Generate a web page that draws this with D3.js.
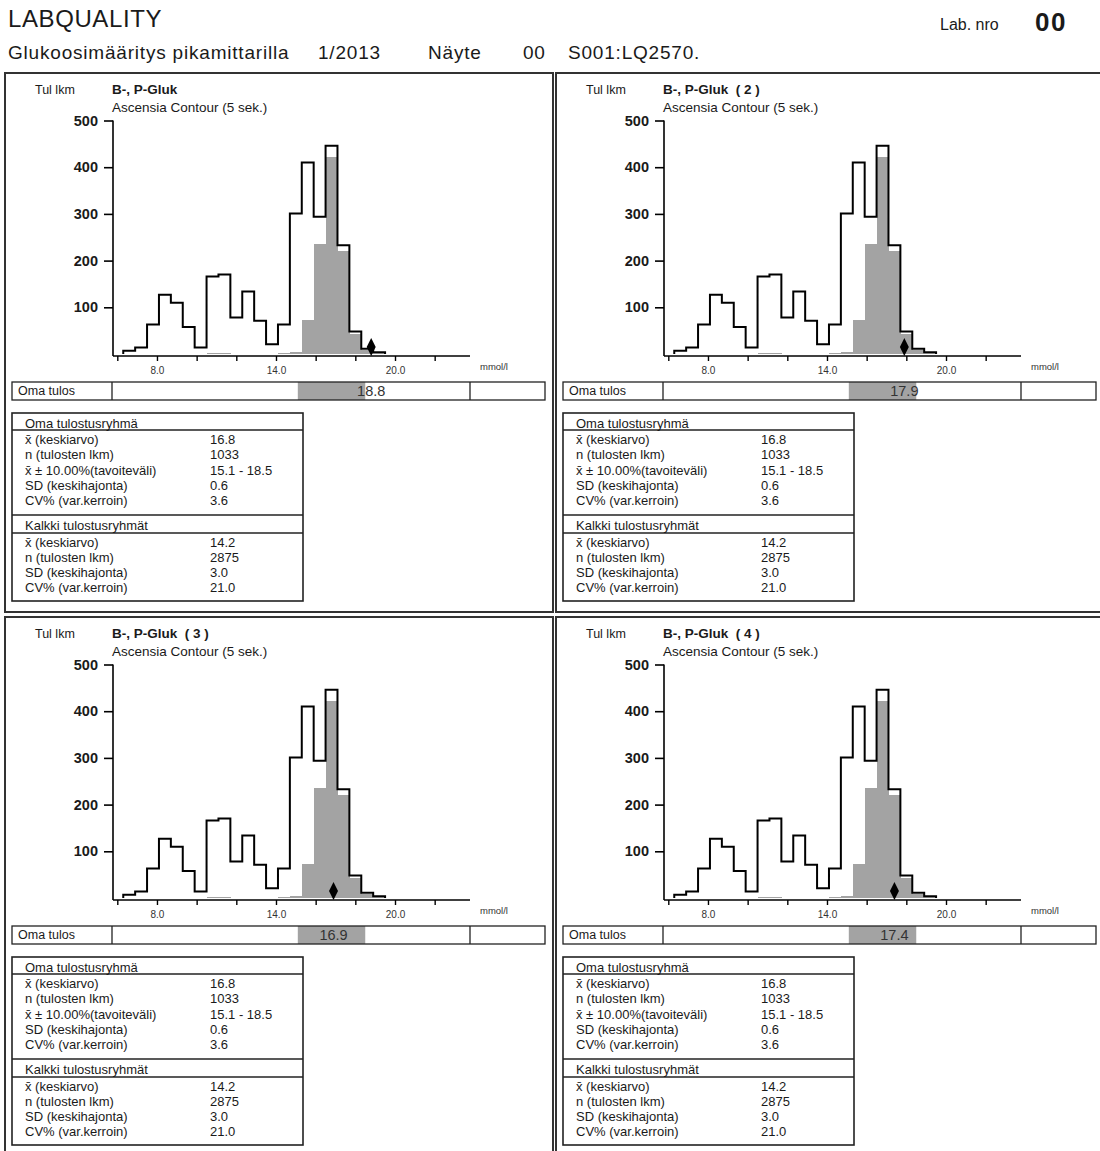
<!DOCTYPE html>
<html><head><meta charset="utf-8">
<script src="https://cdn.jsdelivr.net/npm/d3@7"></script>
<style>
body{margin:0;background:#fff;}
svg{display:block;font-family:"Liberation Sans",Arial,sans-serif;}
</style></head>
<body>
<svg id="chart" width="1100" height="1151"></svg>
<script>
// ---------- data ----------
const binEdges = [6.3, 6.9, 7.5, 8.1, 8.7, 9.3, 9.9, 10.5, 11.1, 11.7, 12.3, 12.9, 13.5, 14.1, 14.7, 15.3, 15.9, 16.5, 17.1, 17.7, 18.3, 18.9, 19.5];
const allCounts   = [7, 14, 63, 127, 110, 58, 14, 166, 170, 78, 134, 71, 21, 63, 301, 410, 294, 446, 233, 48, 11, 4];
const groupCounts = [0, 0, 0, 0, 0, 0, 0, 3, 2, 0, 0, 0, 0, 2, 4, 72, 236, 421, 221, 43, 8, 3];
const panelTitles = ["B-, P-Gluk", "B-, P-Gluk\u00a0\u00a0(\u00a02\u00a0)", "B-, P-Gluk\u00a0\u00a0(\u00a03\u00a0)", "B-, P-Gluk\u00a0\u00a0(\u00a04\u00a0)"];
const ownResults = [18.8, 17.9, 16.9, 17.4];
const targetRange = [15.1, 18.5];
const yTicks = [100, 200, 300, 400, 500];
const xTicks = [6, 8, 10, 12, 14, 16, 18, 20, 22];
const xTickLabels = [8, 14, 20];
const groupRowLabels = ["x\u0304 (keskiarvo)", "n (tulosten lkm)", "x\u0304 \u00b1 10.00%(tavoiteväli)", "SD (keskihajonta)", "CV% (var.kerroin)"];
const groupRowValues = ["16.8", "1033", "15.1 - 18.5", "0.6", "3.6"];
const allRowLabels = ["x\u0304 (keskiarvo)", "n (tulosten lkm)", "SD (keskihajonta)", "CV% (var.kerroin)"];
const allRowValues = ["14.2", "2875", "3.0", "21.0"];

// ---------- layout ----------
const svg = d3.select("#chart");
const ink = "#1a1a1a";

// header
svg.append("text").attr("x", 8).attr("y", 27).attr("font-size", 24).attr("letter-spacing", 0.6).attr("fill", ink).text("LABQUALITY");
svg.append("text").attr("x", 940).attr("y", 30).attr("font-size", 16).attr("fill", ink).text("Lab. nro");
svg.append("text").attr("x", 1035).attr("y", 31).attr("font-size", 26).attr("letter-spacing", 1.5).attr("font-weight", "bold").attr("fill", ink).text("00");
const hdr = [["Glukoosimääritys pikamittarilla", 8], ["1/2013", 318], ["Näyte", 428], ["00", 523], ["S001:LQ2570.", 568]];
hdr.forEach(([t, x]) => svg.append("text").attr("x", x).attr("y", 59).attr("font-size", 19).attr("letter-spacing", 0.8).attr("fill", ink).text(t));

const PW = 548, PH = 539;
const x = d3.scaleLinear().domain([6, 20]).range([112.3, 390]);
const y = d3.scaleLinear().domain([0, 500]).range([281, 47.5]);

panelTitles.forEach((title, i) => {
  const col = i % 2, row = Math.floor(i / 2);
  const g = svg.append("g").attr("transform", `translate(${5 + col * 551},${73 + row * 544})`);
  g.append("rect").attr("x", 0).attr("y", 0).attr("width", PW).attr("height", PH)
    .attr("fill", "none").attr("stroke", "#333").attr("stroke-width", 2);

  g.append("text").attr("x", 30).attr("y", 21).attr("font-size", 12.5).attr("fill", ink).text("Tul lkm");
  g.append("text").attr("x", 107).attr("y", 21).attr("font-size", 13.5).attr("font-weight", "bold").attr("fill", ink).text(title);
  g.append("text").attr("x", 107).attr("y", 39).attr("font-size", 13.5).attr("fill", ink).text("Ascensia Contour (5 sek.)");

  // gray group histogram
  g.selectAll("rect.grp").data(groupCounts.map((c, k) => ({c, x0: binEdges[k], x1: binEdges[k + 1]})).filter(d => d.c > 0))
    .enter().append("rect")
    .attr("x", d => x(d.x0)).attr("width", d => x(d.x1) - x(d.x0) + 0.6)
    .attr("y", d => y(d.c)).attr("height", d => y(0) - y(d.c))
    .attr("fill", "#a3a3a3").attr("shape-rendering", "crispEdges");

  // outline of all results
  const pts = [[binEdges[0], 0]];
  allCounts.forEach((c, k) => { pts.push([binEdges[k], c]); pts.push([binEdges[k + 1], c]); });
  pts.push([binEdges[binEdges.length - 1], 0]);
  g.append("path").attr("d", d3.line().x(d => x(d[0])).y(d => y(d[1]))(pts))
    .attr("fill", "none").attr("stroke", "#000").attr("stroke-width", 2).attr("stroke-linejoin", "miter");

  // y axis
  const ya = g.append("g").attr("transform", "translate(108,0)")
    .call(d3.axisLeft(y).tickValues(yTicks).tickSize(9).tickPadding(6).tickFormat(d3.format("d")));
  ya.select(".domain").attr("d", `M0,${y(500)}V${y(0) + 2}`).attr("stroke", "#000").attr("stroke-width", 1.6);
  ya.selectAll(".tick line").attr("stroke", "#000").attr("stroke-width", 1.6);
  ya.selectAll(".tick text").attr("font-size", 14.5).attr("font-weight", "bold").attr("fill", ink).attr("font-family", "Liberation Sans, Arial, sans-serif");

  // x axis
  const xa = g.append("g").attr("transform", "translate(0,283)")
    .call(d3.axisBottom(x).tickValues(xTicks).tickSize(5).tickPadding(6)
      .tickFormat(d => xTickLabels.includes(d) ? d3.format(".1f")(d) : ""));
  xa.select(".domain").attr("d", `M108,0H465`).attr("stroke", "#000").attr("stroke-width", 1.6);
  xa.selectAll(".tick line").attr("stroke", "#000").attr("stroke-width", 1.4);
  xa.selectAll(".tick text").attr("font-size", 10).attr("fill", "#333").attr("font-family", "Liberation Sans, Arial, sans-serif");
  g.append("text").attr("x", 475).attr("y", 297).attr("font-size", 9.5).attr("fill", "#333").text("mmol/l");

  // own result diamond
  g.append("path").attr("d", d3.symbol(d3.symbolDiamond, 70)())
    .attr("transform", `translate(${x(ownResults[i])},${y(0) - 7}) scale(1,1.15)`).attr("fill", "#000");

  // Oma tulos row
  g.append("rect").attr("x", x(targetRange[0])).attr("y", 309).attr("width", x(targetRange[1]) - x(targetRange[0])).attr("height", 18).attr("fill", "#a3a3a3");
  g.append("rect").attr("x", 7).attr("y", 309).attr("width", 533).attr("height", 18).attr("fill", "none").attr("stroke", "#222").attr("stroke-width", 1.3);
  g.append("line").attr("x1", 107).attr("x2", 107).attr("y1", 309).attr("y2", 327).attr("stroke", "#222").attr("stroke-width", 1.3);
  g.append("line").attr("x1", 465).attr("x2", 465).attr("y1", 309).attr("y2", 327).attr("stroke", "#222").attr("stroke-width", 1.3);
  g.append("text").attr("x", 13).attr("y", 322).attr("font-size", 12.5).attr("fill", ink).text("Oma tulos");
  g.append("text").attr("x", x(ownResults[i])).attr("y", 323).attr("text-anchor", "middle").attr("font-size", 14.5).attr("fill", "#333").text(d3.format(".1f")(ownResults[i]));

  // stats table
  g.append("rect").attr("x", 7).attr("y", 340).attr("width", 291).attr("height", 188).attr("fill", "none").attr("stroke", "#222").attr("stroke-width", 1.6);
  [357, 442, 460].forEach(yy => g.append("line").attr("x1", 7).attr("x2", 298).attr("y1", yy).attr("y2", yy).attr("stroke", "#222").attr("stroke-width", 1.4));
  const ts = 13;
  g.append("text").attr("x", 20).attr("y", 355).attr("font-size", ts).attr("fill", ink).text("Oma tulostusryhmä");
  const gy = [371, 386, 402, 417, 432];
  groupRowLabels.forEach((t, k) => {
    g.append("text").attr("x", 20).attr("y", gy[k]).attr("font-size", ts).attr("fill", ink).text(t);
    g.append("text").attr("x", 205).attr("y", gy[k]).attr("font-size", ts).attr("fill", ink).text(groupRowValues[k]);
  });
  g.append("text").attr("x", 20).attr("y", 457).attr("font-size", ts).attr("fill", ink).text("Kalkki tulostusryhmät");
  const ay = [474, 489, 504, 519];
  allRowLabels.forEach((t, k) => {
    g.append("text").attr("x", 20).attr("y", ay[k]).attr("font-size", ts).attr("fill", ink).text(t);
    g.append("text").attr("x", 205).attr("y", ay[k]).attr("font-size", ts).attr("fill", ink).text(allRowValues[k]);
  });
});
</script>
</body></html>
